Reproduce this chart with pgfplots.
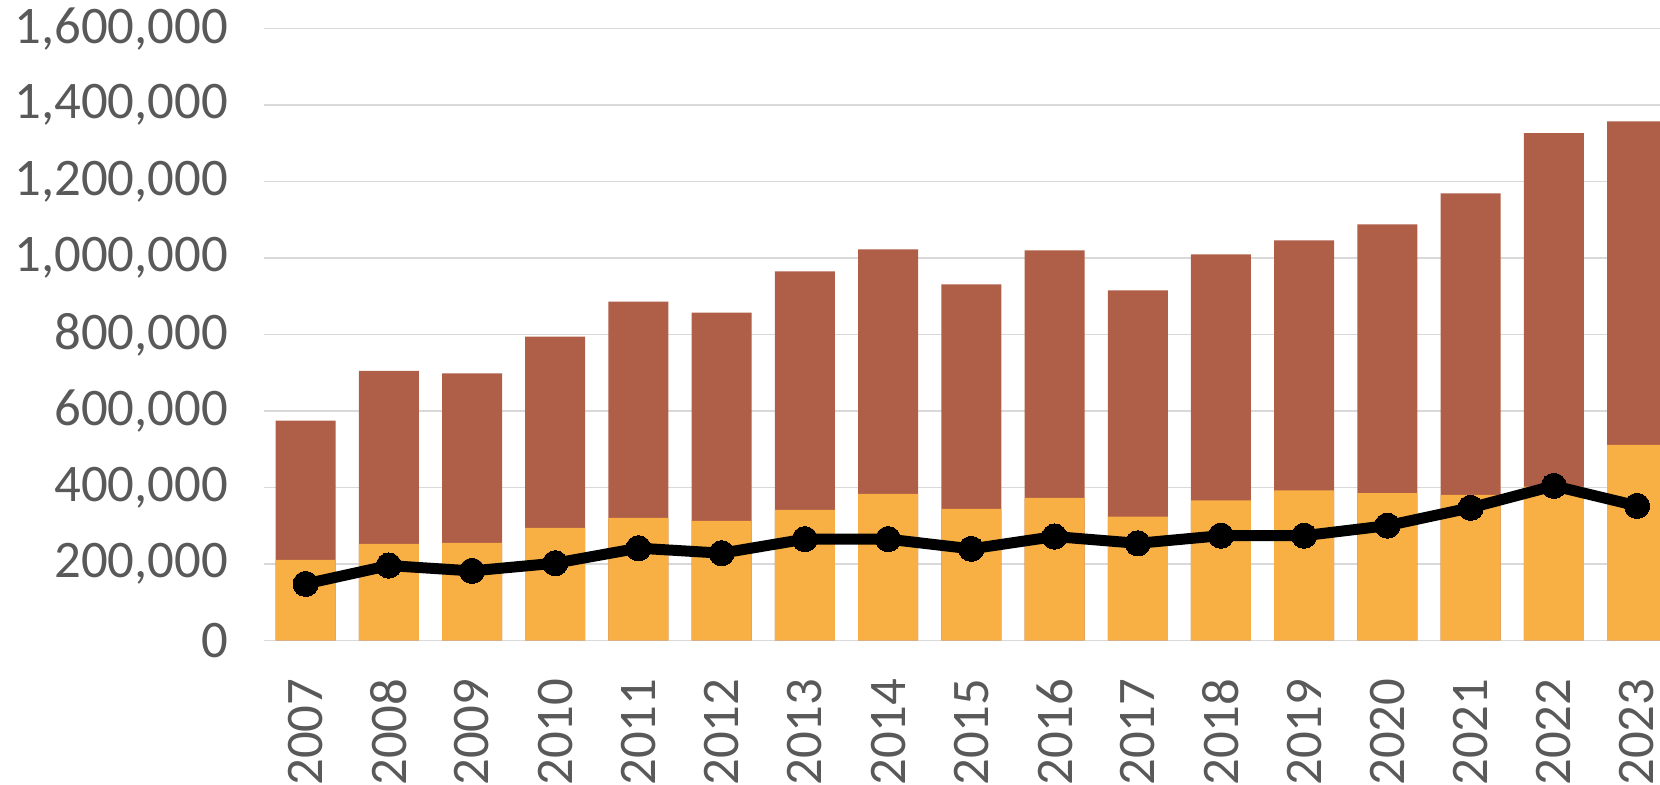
\documentclass[border=0pt]{standalone}
\usepackage{fontspec}
\setmainfont{Carlito}
\usepackage{pgfplots}
\pgfplotsset{compat=1.18}
\definecolor{cOrange}{HTML}{F8AF43}
\definecolor{cBrown}{HTML}{AF5E47}
\definecolor{cGrid}{HTML}{D9D9D9}
\definecolor{cText}{HTML}{595959}
\begin{document}
\begin{tikzpicture}
\useasboundingbox (-132pt,-71.85pt) rectangle (698pt,320.15pt);
\clip (-132pt,-71.85pt) rectangle (698pt,320.15pt);
\begin{axis}[
  scale only axis,
  width=698pt, height=305.85pt,
  xmin=-0.5, xmax=16.276,
  ymin=0, ymax=1600000,
  enlargelimits=false,
  axis line style={draw=none},
  major tick length=0pt,
  ytick={0,200000,...,1600000},
  ymajorgrids,
  grid style={cGrid, line width=0.8pt},
  scaled y ticks=false,
  /pgf/number format/fixed,
  /pgf/number format/1000 sep={,},
  /pgf/number format/assume math mode=true,
  ticklabel style={font=\fontsize{26.4}{31}\selectfont, text=cText, inner sep=0pt},
  yticklabel style={anchor=east, xshift=-17.75pt},
  xtick={0,...,16},
  xticklabels={2007,2008,2009,2010,2011,2012,2013,2014,2015,2016,2017,2018,2019,2020,2021,2022,2023},
  xticklabel style={rotate=90, anchor=east},
  xticklabel shift=19pt,
]
% totals (brown)
\addplot[ybar, bar width=30pt, bar shift=0pt, fill=cBrown, draw=none] coordinates {
(0,574500) (1,705000) (2,698000) (3,794500) (4,886200) (5,857400) (6,964800) (7,1022400)
(8,930700) (9,1019800) (10,915200) (11,1009300) (12,1046200) (13,1087800) (14,1169000) (15,1326300) (16,1357200)};
% lower part (orange)
\addplot[ybar, bar width=30pt, bar shift=0pt, fill=cOrange, draw=none] coordinates {
(0,210300) (1,252300) (2,254900) (3,294200) (4,320400) (5,312500) (6,341300) (7,383200)
(8,343900) (9,372800) (10,323200) (11,366000) (12,391900) (13,385300) (14,380400) (15,402000) (16,511500)};
% line
\addplot[sharp plot, black, line width=5.5pt, mark=*, mark size=6.3pt, mark options={fill=black, draw=black, line width=0pt}] coordinates {
(0,147500) (1,195500) (2,181500) (3,201700) (4,241000) (5,227900) (6,264600) (7,264600)
(8,239200) (9,271400) (10,253700) (11,273700) (12,273700) (13,299900) (14,346600) (15,404000) (16,351600)};
\end{axis}
\end{tikzpicture}
\end{document}
